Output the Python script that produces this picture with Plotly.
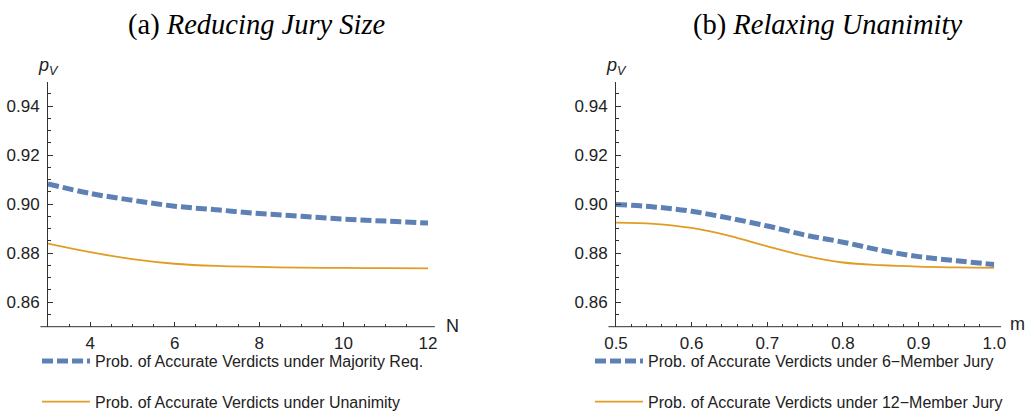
import plotly.graph_objects as go

# ---- data ----
jury_size = [3, 4, 5, 6, 7, 8, 9, 10, 11, 12]
majority_req = [0.9083, 0.9044, 0.9016, 0.8992, 0.8977, 0.8962, 0.8951, 0.8939, 0.8931, 0.8923]
unanimity = [0.8839, 0.8804, 0.8776, 0.8757, 0.8748, 0.8744, 0.8741, 0.8740, 0.8739, 0.8738]

m_share = [0.50, 0.55, 0.60, 0.65, 0.70, 0.75, 0.80, 0.85, 0.90, 0.95, 1.00]
six_member = [0.8999, 0.8989, 0.8971, 0.8943, 0.8911, 0.8874, 0.8845, 0.8812, 0.8786, 0.8769, 0.8754]
twelve_member = [0.8925, 0.8920, 0.8903, 0.8871, 0.8828, 0.8789, 0.8762, 0.8751, 0.8745, 0.8742, 0.8740]

left_xticks = [4, 6, 8, 10, 12]
right_xticks = [0.5, 0.6, 0.7, 0.8, 0.9, 1.0]
y_ticks = [0.86, 0.88, 0.90, 0.92, 0.94]
y_ticktext = ["0.86", "0.88", "0.90", "0.92", "0.94"]

BLUE = "#5E81B5"
ORANGE = "#E19C24"
AX = "#333333"
W, H = 1029, 414

def px(x):
    return x / W

def py(y):
    return 1 - y / H

DASH = "11px,4px"
fig = go.Figure()
fig.add_trace(go.Scatter(x=jury_size, y=majority_req, mode="lines", line=dict(color=BLUE, width=5, dash=DASH, shape="spline"),
                         name="Prob. of Accurate Verdicts under Majority Req.", xaxis="x", yaxis="y", legend="legend", legendgroup="a1"))
fig.add_trace(go.Scatter(x=jury_size, y=unanimity, mode="lines", line=dict(color=ORANGE, width=1.8, shape="spline"),
                         name="Prob. of Accurate Verdicts under Unanimity", xaxis="x", yaxis="y", legend="legend", legendgroup="a2"))
fig.add_trace(go.Scatter(x=m_share, y=six_member, mode="lines", line=dict(color=BLUE, width=5, dash=DASH, shape="spline"),
                         name="Prob. of Accurate Verdicts under 6\u2212Member Jury", xaxis="x2", yaxis="y2", legend="legend2", legendgroup="b1"))
fig.add_trace(go.Scatter(x=m_share, y=twelve_member, mode="lines", line=dict(color=ORANGE, width=1.8, shape="spline"),
                         name="Prob. of Accurate Verdicts under 12\u2212Member Jury", xaxis="x2", yaxis="y2", legend="legend2", legendgroup="b2"))

tickfont = dict(family="Liberation Sans, Arial", size=17, color="#222")
y0, y1 = py(326.7), py(81.7)

def yax(anchor):
    return dict(domain=[y0, y1], range=[0.85, 0.95], anchor=anchor, tickvals=y_ticks, ticktext=y_ticktext,
                ticks="inside", ticklen=5, tickcolor=AX, showline=True, linecolor=AX, linewidth=1, automargin=False,
                showgrid=False, zeroline=False, tickfont=tickfont, ticklabelstandoff=4,
                minor=dict(ticks="inside", dtick=0.005, tick0=0.85, ticklen=3, tickcolor=AX, showgrid=False))

def xax(anchor, dom, rng, tv, tt, dtick, tick0):
    return dict(domain=dom, range=rng, anchor=anchor, tickvals=tv, ticktext=tt, automargin=False,
                ticks="inside", ticklen=5, tickcolor=AX, showline=False,
                showgrid=False, zeroline=False, tickfont=tickfont, ticklabelstandoff=4,
                minor=dict(ticks="inside", dtick=dtick, tick0=tick0, ticklen=3, tickcolor=AX, showgrid=False))

legfont = dict(family="Liberation Sans, Arial", size=16, color="#222")
fig.update_layout(
    template="none",
    width=W, height=H, margin=dict(l=0, r=0, t=0, b=0, autoexpand=False),
    paper_bgcolor="white", plot_bgcolor="white",
    xaxis=xax("y", [px(48), px(428)], [3, 12], left_xticks, [str(v) for v in left_xticks], 0.5, 3),
    yaxis=yax("x"),
    xaxis2=xax("y2", [px(616), px(994.3)], [0.5, 1.0], right_xticks, [f"{v:.1f}" for v in right_xticks], 0.02, 0.5),
    yaxis2=yax("x2"),
    legend=dict(x=px(37), y=py(344), xanchor="left", yanchor="top", font=legfont,
                tracegroupgap=17, bgcolor="rgba(0,0,0,0)", borderwidth=0, itemwidth=48),
    legend2=dict(x=px(590), y=py(344), xanchor="left", yanchor="top", font=legfont,
                 tracegroupgap=17, bgcolor="rgba(0,0,0,0)", borderwidth=0, itemwidth=48),
    showlegend=True,
)

# axis lines extending slightly past the plot (Mathematica style)
for xr, yr in (("x domain", "y domain"), ("x2 domain", "y2 domain")):
    fig.add_shape(type="line", xref=xr, yref=yr, x0=-0.02, x1=1.018, y0=0, y1=0, line=dict(color=AX, width=1))

serif = dict(family="Liberation Serif, Times New Roman", size=28.5, color="black")
fig.add_annotation(text="(a) <i>Reducing Jury Size</i>", xref="paper", yref="paper", x=px(257), y=py(25),
                   showarrow=False, font=serif, xanchor="center", yanchor="middle")
fig.add_annotation(text="(b) <i>Relaxing Unanimity</i>", xref="paper", yref="paper", x=px(827), y=py(25),
                   showarrow=False, font=serif, xanchor="center", yanchor="middle")

lab = dict(family="Liberation Sans, Arial", size=18, color="#222")
for xp in (48, 616):
    fig.add_annotation(text="<i>p<sub>V</sub></i>", xref="paper", yref="paper", x=px(xp), y=py(66),
                       showarrow=False, font=lab, xanchor="center", yanchor="middle")
fig.add_annotation(text="N", xref="paper", yref="paper", x=px(452), y=py(326), showarrow=False, font=lab,
                   xanchor="center", yanchor="middle")
fig.add_annotation(text="m", xref="paper", yref="paper", x=px(1017), y=py(324), showarrow=False, font=lab,
                   xanchor="center", yanchor="middle")

fig.write_html("out.html", config={"displayModeBar": False},
               post_script="document.body.style.margin='0';document.body.style.overflow='hidden';")
